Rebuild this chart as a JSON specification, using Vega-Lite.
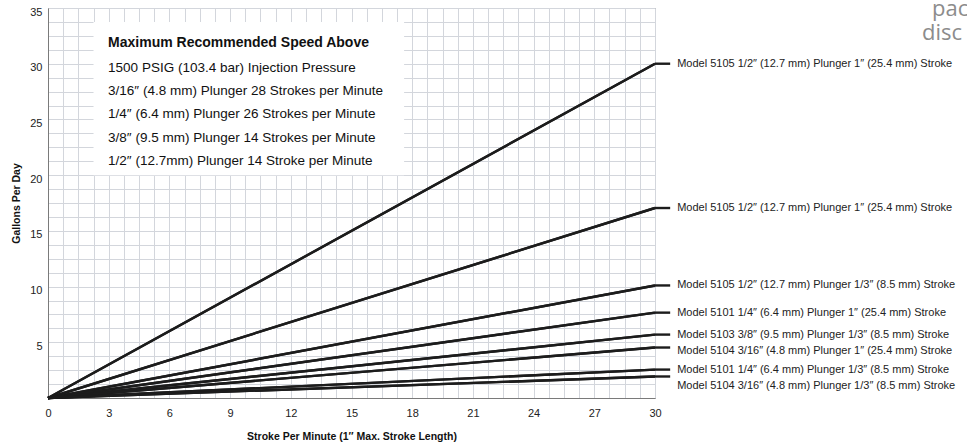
{
  "$schema": "https://vega.github.io/schema/vega-lite/v6.json",
  "width": 607,
  "height": 390,
  "autosize": {"type": "none"},
  "padding": {"left": 48, "top": 8, "right": 312, "bottom": 47},
  "background": "white",
  "config": {
    "view": {"stroke": "#7a7a7a", "strokeWidth": 1},
    "font": "Liberation Sans",
    "axis": {
      "titleFont": "Liberation Sans", "titleFontSize": 10.5, "titleFontWeight": "bold", "titleColor": "#111",
      "labelFont": "Liberation Sans", "labelFontSize": 11, "labelColor": "#222",
      "labelFlush": false, "labelOverlap": false, "format": "~g",
      "ticks": false, "domain": true, "domainColor": "#7a7a7a",
      "grid": true, "gridColor": "#d3d6dc", "gridWidth": 1, "gridOpacity": 1
    },
    "axisX": {"titlePadding": 13, "labelPadding": 9},
    "axisY": {"titlePadding": 8, "labelPadding": 6, "labelOffset": 4}
  },
  "datasets": {
    "series": [
      {"id": 1, "label": "Model 5105 1/2″ (12.7 mm) Plunger 1″ (25.4 mm) Stroke", "spm": 0, "gpd": 0},
      {"id": 1, "label": "Model 5105 1/2″ (12.7 mm) Plunger 1″ (25.4 mm) Stroke", "spm": 30, "gpd": 30},
      {"id": 2, "label": "Model 5105 1/2″ (12.7 mm) Plunger 1″ (25.4 mm) Stroke", "spm": 0, "gpd": 0},
      {"id": 2, "label": "Model 5105 1/2″ (12.7 mm) Plunger 1″ (25.4 mm) Stroke", "spm": 30, "gpd": 17.05},
      {"id": 3, "label": "Model 5105 1/2″ (12.7 mm) Plunger 1/3″ (8.5 mm) Stroke", "spm": 0, "gpd": 0},
      {"id": 3, "label": "Model 5105 1/2″ (12.7 mm) Plunger 1/3″ (8.5 mm) Stroke", "spm": 30, "gpd": 10.1},
      {"id": 4, "label": "Model 5101 1/4″ (6.4 mm) Plunger 1″ (25.4 mm) Stroke", "spm": 0, "gpd": 0},
      {"id": 4, "label": "Model 5101 1/4″ (6.4 mm) Plunger 1″ (25.4 mm) Stroke", "spm": 30, "gpd": 7.66},
      {"id": 5, "label": "Model 5103 3/8″ (9.5 mm) Plunger 1/3″ (8.5 mm) Stroke", "spm": 0, "gpd": 0},
      {"id": 5, "label": "Model 5103 3/8″ (9.5 mm) Plunger 1/3″ (8.5 mm) Stroke", "spm": 30, "gpd": 5.69},
      {"id": 6, "label": "Model 5104 3/16″ (4.8 mm) Plunger 1″ (25.4 mm) Stroke", "spm": 0, "gpd": 0},
      {"id": 6, "label": "Model 5104 3/16″ (4.8 mm) Plunger 1″ (25.4 mm) Stroke", "spm": 30, "gpd": 4.53},
      {"id": 7, "label": "Model 5101 1/4″ (6.4 mm) Plunger 1/3″ (8.5 mm) Stroke", "spm": 0, "gpd": 0},
      {"id": 7, "label": "Model 5101 1/4″ (6.4 mm) Plunger 1/3″ (8.5 mm) Stroke", "spm": 30, "gpd": 2.55},
      {"id": 8, "label": "Model 5104 3/16″ (4.8 mm) Plunger 1/3″ (8.5 mm) Stroke", "spm": 0, "gpd": 0},
      {"id": 8, "label": "Model 5104 3/16″ (4.8 mm) Plunger 1/3″ (8.5 mm) Stroke", "spm": 30, "gpd": 1.93}
    ]
  },
  "data": {"name": "series"},
  "layer": [
    {
      "mark": {"type": "line", "color": "#1c1c1c", "strokeWidth": 2.4},
      "encoding": {
        "x": {"field": "spm", "type": "quantitative", "scale": {"domain": [0, 30], "nice": false, "zero": true},
          "axis": {"title": "Stroke Per Minute (1″ Max. Stroke Length)", "values": [0,0.75,1.5,2.25,3,3.75,4.5,5.25,6,6.75,7.5,8.25,9,9.75,10.5,11.25,12,12.75,13.5,14.25,15,15.75,16.5,17.25,18,18.75,19.5,20.25,21,21.75,22.5,23.25,24,24.75,25.5,26.25,27,27.75,28.5,29.25,30], "labelExpr": "datum.value % 3 === 0 ? datum.label : ''"}},
        "y": {"field": "gpd", "type": "quantitative", "scale": {"domain": [0, 35], "nice": false, "zero": true},
          "axis": {"title": "Gallons Per Day", "values": [0,1.25,2.5,3.75,5,6.25,7.5,8.75,10,11.25,12.5,13.75,15,16.25,17.5,18.75,20,21.25,22.5,23.75,25,26.25,27.5,28.75,30,31.25,32.5,33.75,35], "labelExpr": "datum.value % 5 === 0 && datum.value > 0 ? datum.label : ''"}},
        "detail": {"field": "id", "type": "nominal"}
      }
    },
    {
      "data": {"values": [{"box": "note"}]},
      "mark": {"type": "rect", "fill": "white", "stroke": null},
      "encoding": {
        "x": {"datum": 2.25, "type": "quantitative",
          "axis": {"title": "Stroke Per Minute (1″ Max. Stroke Length)", "values": [0,0.75,1.5,2.25,3,3.75,4.5,5.25,6,6.75,7.5,8.25,9,9.75,10.5,11.25,12,12.75,13.5,14.25,15,15.75,16.5,17.25,18,18.75,19.5,20.25,21,21.75,22.5,23.25,24,24.75,25.5,26.25,27,27.75,28.5,29.25,30], "labelExpr": "datum.value % 3 === 0 ? datum.label : ''"}},
        "x2": {"datum": 17.6},
        "y": {"datum": 33.75, "type": "quantitative",
          "axis": {"title": "Gallons Per Day", "values": [0,1.25,2.5,3.75,5,6.25,7.5,8.75,10,11.25,12.5,13.75,15,16.25,17.5,18.75,20,21.25,22.5,23.75,25,26.25,27.5,28.75,30,31.25,32.5,33.75,35], "labelExpr": "datum.value % 5 === 0 && datum.value > 0 ? datum.label : ''"}},
        "y2": {"datum": 20}
      }
    },
    {
      "mark": {"type": "line", "color": "#1c1c1c", "strokeWidth": 2.4},
      "encoding": {
        "x": {"field": "spm", "type": "quantitative",
          "axis": {"title": "Stroke Per Minute (1″ Max. Stroke Length)", "values": [0,0.75,1.5,2.25,3,3.75,4.5,5.25,6,6.75,7.5,8.25,9,9.75,10.5,11.25,12,12.75,13.5,14.25,15,15.75,16.5,17.25,18,18.75,19.5,20.25,21,21.75,22.5,23.25,24,24.75,25.5,26.25,27,27.75,28.5,29.25,30], "labelExpr": "datum.value % 3 === 0 ? datum.label : ''"}},
        "y": {"field": "gpd", "type": "quantitative",
          "axis": {"title": "Gallons Per Day", "values": [0,1.25,2.5,3.75,5,6.25,7.5,8.75,10,11.25,12.5,13.75,15,16.25,17.5,18.75,20,21.25,22.5,23.75,25,26.25,27.5,28.75,30,31.25,32.5,33.75,35], "labelExpr": "datum.value % 5 === 0 && datum.value > 0 ? datum.label : ''"}},
        "detail": {"field": "id", "type": "nominal"}
      }
    },
    {
      "transform": [{"filter": "datum.spm === 30"}],
      "mark": {"type": "rule", "color": "#1c1c1c", "strokeWidth": 2.4},
      "encoding": {
        "x": {"datum": 30, "type": "quantitative",
          "axis": {"title": "Stroke Per Minute (1″ Max. Stroke Length)", "values": [0,0.75,1.5,2.25,3,3.75,4.5,5.25,6,6.75,7.5,8.25,9,9.75,10.5,11.25,12,12.75,13.5,14.25,15,15.75,16.5,17.25,18,18.75,19.5,20.25,21,21.75,22.5,23.25,24,24.75,25.5,26.25,27,27.75,28.5,29.25,30], "labelExpr": "datum.value % 3 === 0 ? datum.label : ''"}},
        "x2": {"datum": 30.75},
        "y": {"field": "gpd", "type": "quantitative",
          "axis": {"title": "Gallons Per Day", "values": [0,1.25,2.5,3.75,5,6.25,7.5,8.75,10,11.25,12.5,13.75,15,16.25,17.5,18.75,20,21.25,22.5,23.75,25,26.25,27.5,28.75,30,31.25,32.5,33.75,35], "labelExpr": "datum.value % 5 === 0 && datum.value > 0 ? datum.label : ''"}}
      }
    },
    {
      "transform": [{"filter": "datum.spm === 30 && datum.id !== 6 && datum.id !== 8"}],
      "mark": {"type": "text", "align": "left", "baseline": "middle", "dx": 7, "font": "Liberation Sans", "fontSize": 11, "color": "#222"},
      "encoding": {
        "x": {"datum": 30.75, "type": "quantitative",
          "axis": {"title": "Stroke Per Minute (1″ Max. Stroke Length)", "values": [0,0.75,1.5,2.25,3,3.75,4.5,5.25,6,6.75,7.5,8.25,9,9.75,10.5,11.25,12,12.75,13.5,14.25,15,15.75,16.5,17.25,18,18.75,19.5,20.25,21,21.75,22.5,23.25,24,24.75,25.5,26.25,27,27.75,28.5,29.25,30], "labelExpr": "datum.value % 3 === 0 ? datum.label : ''"}},
        "y": {"field": "gpd", "type": "quantitative",
          "axis": {"title": "Gallons Per Day", "values": [0,1.25,2.5,3.75,5,6.25,7.5,8.75,10,11.25,12.5,13.75,15,16.25,17.5,18.75,20,21.25,22.5,23.75,25,26.25,27.5,28.75,30,31.25,32.5,33.75,35], "labelExpr": "datum.value % 5 === 0 && datum.value > 0 ? datum.label : ''"}},
        "text": {"field": "label"}
      }
    },
    {
      "transform": [{"filter": "datum.spm === 30 && datum.id === 6"}],
      "mark": {"type": "text", "align": "left", "baseline": "middle", "dx": 7, "dy": 3, "font": "Liberation Sans", "fontSize": 11, "color": "#222"},
      "encoding": {
        "x": {"datum": 30.75, "type": "quantitative",
          "axis": {"title": "Stroke Per Minute (1″ Max. Stroke Length)", "values": [0,0.75,1.5,2.25,3,3.75,4.5,5.25,6,6.75,7.5,8.25,9,9.75,10.5,11.25,12,12.75,13.5,14.25,15,15.75,16.5,17.25,18,18.75,19.5,20.25,21,21.75,22.5,23.25,24,24.75,25.5,26.25,27,27.75,28.5,29.25,30], "labelExpr": "datum.value % 3 === 0 ? datum.label : ''"}},
        "y": {"field": "gpd", "type": "quantitative",
          "axis": {"title": "Gallons Per Day", "values": [0,1.25,2.5,3.75,5,6.25,7.5,8.75,10,11.25,12.5,13.75,15,16.25,17.5,18.75,20,21.25,22.5,23.75,25,26.25,27.5,28.75,30,31.25,32.5,33.75,35], "labelExpr": "datum.value % 5 === 0 && datum.value > 0 ? datum.label : ''"}},
        "text": {"field": "label"}
      }
    },
    {
      "transform": [{"filter": "datum.spm === 30 && datum.id === 8"}],
      "mark": {"type": "text", "align": "left", "baseline": "middle", "dx": 7, "dy": 10, "font": "Liberation Sans", "fontSize": 11, "color": "#222"},
      "encoding": {
        "x": {"datum": 30.75, "type": "quantitative",
          "axis": {"title": "Stroke Per Minute (1″ Max. Stroke Length)", "values": [0,0.75,1.5,2.25,3,3.75,4.5,5.25,6,6.75,7.5,8.25,9,9.75,10.5,11.25,12,12.75,13.5,14.25,15,15.75,16.5,17.25,18,18.75,19.5,20.25,21,21.75,22.5,23.25,24,24.75,25.5,26.25,27,27.75,28.5,29.25,30], "labelExpr": "datum.value % 3 === 0 ? datum.label : ''"}},
        "y": {"field": "gpd", "type": "quantitative",
          "axis": {"title": "Gallons Per Day", "values": [0,1.25,2.5,3.75,5,6.25,7.5,8.75,10,11.25,12.5,13.75,15,16.25,17.5,18.75,20,21.25,22.5,23.75,25,26.25,27.5,28.75,30,31.25,32.5,33.75,35], "labelExpr": "datum.value % 5 === 0 && datum.value > 0 ? datum.label : ''"}},
        "text": {"field": "label"}
      }
    },
    {
      "data": {"values": [{"note": "title"}]},
      "mark": {"type": "text", "align": "left", "baseline": "middle", "font": "Liberation Sans", "fontSize": 14, "fontWeight": "bold", "color": "#111", "text": "Maximum Recommended Speed Above"},
      "encoding": {
        "x": {"datum": 2.97, "type": "quantitative",
          "axis": {"title": "Stroke Per Minute (1″ Max. Stroke Length)", "values": [0,0.75,1.5,2.25,3,3.75,4.5,5.25,6,6.75,7.5,8.25,9,9.75,10.5,11.25,12,12.75,13.5,14.25,15,15.75,16.5,17.25,18,18.75,19.5,20.25,21,21.75,22.5,23.25,24,24.75,25.5,26.25,27,27.75,28.5,29.25,30], "labelExpr": "datum.value % 3 === 0 ? datum.label : ''"}},
        "y": {"datum": 31.86, "type": "quantitative",
          "axis": {"title": "Gallons Per Day", "values": [0,1.25,2.5,3.75,5,6.25,7.5,8.75,10,11.25,12.5,13.75,15,16.25,17.5,18.75,20,21.25,22.5,23.75,25,26.25,27.5,28.75,30,31.25,32.5,33.75,35], "labelExpr": "datum.value % 5 === 0 && datum.value > 0 ? datum.label : ''"}}
      }
    },
    {
      "data": {"values": [{"note": "lines"}]},
      "mark": {
        "type": "text", "align": "left", "baseline": "middle", "font": "Liberation Sans", "fontSize": 13.5, "color": "#111", "lineHeight": 23.2,
        "text": [
          "1500 PSIG (103.4 bar) Injection Pressure",
          "3/16″ (4.8 mm) Plunger 28 Strokes per Minute",
          "1/4″ (6.4 mm) Plunger 26 Strokes per Minute",
          "3/8″ (9.5 mm) Plunger 14 Strokes per Minute",
          "1/2″ (12.7mm) Plunger 14 Stroke per Minute"
        ]
      },
      "encoding": {
        "x": {"datum": 2.97, "type": "quantitative",
          "axis": {"title": "Stroke Per Minute (1″ Max. Stroke Length)", "values": [0,0.75,1.5,2.25,3,3.75,4.5,5.25,6,6.75,7.5,8.25,9,9.75,10.5,11.25,12,12.75,13.5,14.25,15,15.75,16.5,17.25,18,18.75,19.5,20.25,21,21.75,22.5,23.25,24,24.75,25.5,26.25,27,27.75,28.5,29.25,30], "labelExpr": "datum.value % 3 === 0 ? datum.label : ''"}},
        "y": {"datum": 29.62, "type": "quantitative",
          "axis": {"title": "Gallons Per Day", "values": [0,1.25,2.5,3.75,5,6.25,7.5,8.75,10,11.25,12.5,13.75,15,16.25,17.5,18.75,20,21.25,22.5,23.75,25,26.25,27.5,28.75,30,31.25,32.5,33.75,35], "labelExpr": "datum.value % 5 === 0 && datum.value > 0 ? datum.label : ''"}}
      }
    },
    {
      "data": {"values": [{"note": "pac"}]},
      "mark": {"type": "text", "align": "left", "baseline": "middle", "font": "Open Sans", "fontSize": 22, "color": "#8c8c8c", "text": "pac"},
      "encoding": {
        "x": {"datum": 43.69, "type": "quantitative",
          "axis": {"title": "Stroke Per Minute (1″ Max. Stroke Length)", "values": [0,0.75,1.5,2.25,3,3.75,4.5,5.25,6,6.75,7.5,8.25,9,9.75,10.5,11.25,12,12.75,13.5,14.25,15,15.75,16.5,17.25,18,18.75,19.5,20.25,21,21.75,22.5,23.25,24,24.75,25.5,26.25,27,27.75,28.5,29.25,30], "labelExpr": "datum.value % 3 === 0 ? datum.label : ''"}},
        "y": {"datum": 34.95, "type": "quantitative",
          "axis": {"title": "Gallons Per Day", "values": [0,1.25,2.5,3.75,5,6.25,7.5,8.75,10,11.25,12.5,13.75,15,16.25,17.5,18.75,20,21.25,22.5,23.75,25,26.25,27.5,28.75,30,31.25,32.5,33.75,35], "labelExpr": "datum.value % 5 === 0 && datum.value > 0 ? datum.label : ''"}}
      }
    },
    {
      "data": {"values": [{"note": "disc"}]},
      "mark": {"type": "text", "align": "left", "baseline": "middle", "font": "Open Sans", "fontSize": 22, "color": "#8c8c8c", "text": "disc"},
      "encoding": {
        "x": {"datum": 43.2, "type": "quantitative",
          "axis": {"title": "Stroke Per Minute (1″ Max. Stroke Length)", "values": [0,0.75,1.5,2.25,3,3.75,4.5,5.25,6,6.75,7.5,8.25,9,9.75,10.5,11.25,12,12.75,13.5,14.25,15,15.75,16.5,17.25,18,18.75,19.5,20.25,21,21.75,22.5,23.25,24,24.75,25.5,26.25,27,27.75,28.5,29.25,30], "labelExpr": "datum.value % 3 === 0 ? datum.label : ''"}},
        "y": {"datum": 32.76, "type": "quantitative",
          "axis": {"title": "Gallons Per Day", "values": [0,1.25,2.5,3.75,5,6.25,7.5,8.75,10,11.25,12.5,13.75,15,16.25,17.5,18.75,20,21.25,22.5,23.75,25,26.25,27.5,28.75,30,31.25,32.5,33.75,35], "labelExpr": "datum.value % 5 === 0 && datum.value > 0 ? datum.label : ''"}}
      }
    }
  ]
}
